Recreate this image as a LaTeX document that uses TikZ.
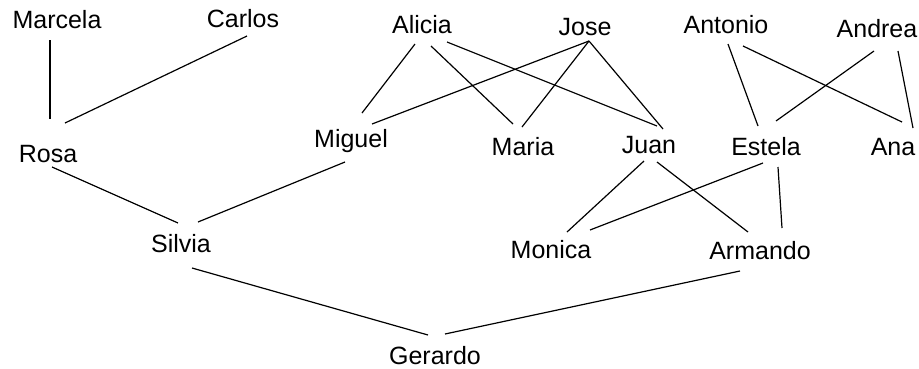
\documentclass[tikz,border=0pt]{standalone}
\usepackage{fontspec}
\setmainfont{Liberation Sans}
\usetikzlibrary{calc}
\begin{document}
\begin{tikzpicture}[x=1pt, y=-1pt, line width=1.2pt,
		persona/.style={anchor=base, inner sep=0pt, font=\fontsize{25}{30}\selectfont}]
			\useasboundingbox (0,0) rectangle (919,368);
			\node[persona] (marcela) at (57,28) {Marcela};
			\node[persona] (carlos) at (243,27) {Carlos};
			\node[persona] (alicia) at (422,33) {Alicia};
			\node[persona] (jose) at (585,35) {Jose};
			\node[persona] (antonio) at (726,33) {Antonio};
			\node[persona] (andrea) at (877,37) {Andrea};
			\node[persona] (rosa) at (48,162) {Rosa};
			\node[persona] (miguel) at (351,147) {Miguel};
			\node[persona] (maria) at (523,155) {Maria};
			\node[persona] (juan) at (649,153) {Juan};
			\node[persona] (estela) at (766,155) {Estela};
			\node[persona] (ana) at (893,155) {Ana};
			\node[persona] (silvia) at (181,252) {Silvia};
			\node[persona] (monica) at (551,258) {Monica};
			\node[persona] (armando) at (760,259) {Armando};
			\node[persona] (gerardo) at (435,364) {Gerardo};
			\draw ($(marcela.base)+(-7,12)$) -- ($(rosa.base)+(2,-43)$);
			\draw ($(carlos.base)+(4,9)$) -- ($(rosa.base)+(17,-39)$);
			\draw ($(alicia.base)+(-7,11)$) -- ($(miguel.base)+(11,-34)$);
			\draw ($(alicia.base)+(9,13)$) -- ($(maria.base)+(-10,-31)$);
			\draw ($(alicia.base)+(25,9)$) -- ($(juan.base)+(8,-27)$);
			\draw ($(jose.base)+(4,6)$) -- ($(miguel.base)+(21,-23)$);
			\draw ($(jose.base)+(4,6)$) -- ($(maria.base)+(-1,-28)$);
			\draw ($(jose.base)+(4,6)$) -- ($(juan.base)+(14,-24)$);
			\draw ($(antonio.base)+(2,11)$) -- ($(estela.base)+(-8,-29)$);
			\draw ($(antonio.base)+(17,13)$) -- ($(ana.base)+(9,-33)$);
			\draw ($(andrea.base)+(-3,14)$) -- ($(estela.base)+(10,-34)$);
			\draw ($(andrea.base)+(21,14)$) -- ($(ana.base)+(20,-27)$);
			\draw ($(rosa.base)+(4,5)$) -- ($(silvia.base)+(-3,-29)$);
			\draw ($(miguel.base)+(-6,15)$) -- ($(silvia.base)+(17,-30)$);
			\draw ($(juan.base)+(-5,8)$) -- ($(monica.base)+(16,-26)$);
			\draw ($(juan.base)+(8,9)$) -- ($(armando.base)+(-12,-27)$);
			\draw ($(estela.base)+(-3,8)$) -- ($(monica.base)+(39,-28)$);
			\draw ($(estela.base)+(12,12)$) -- ($(armando.base)+(22,-31)$);
			\draw ($(silvia.base)+(11,16)$) -- ($(gerardo.base)+(-7,-29)$);
			\draw ($(armando.base)+(-20,12)$) -- ($(gerardo.base)+(10,-30)$);
		\end{tikzpicture}
\end{document}
